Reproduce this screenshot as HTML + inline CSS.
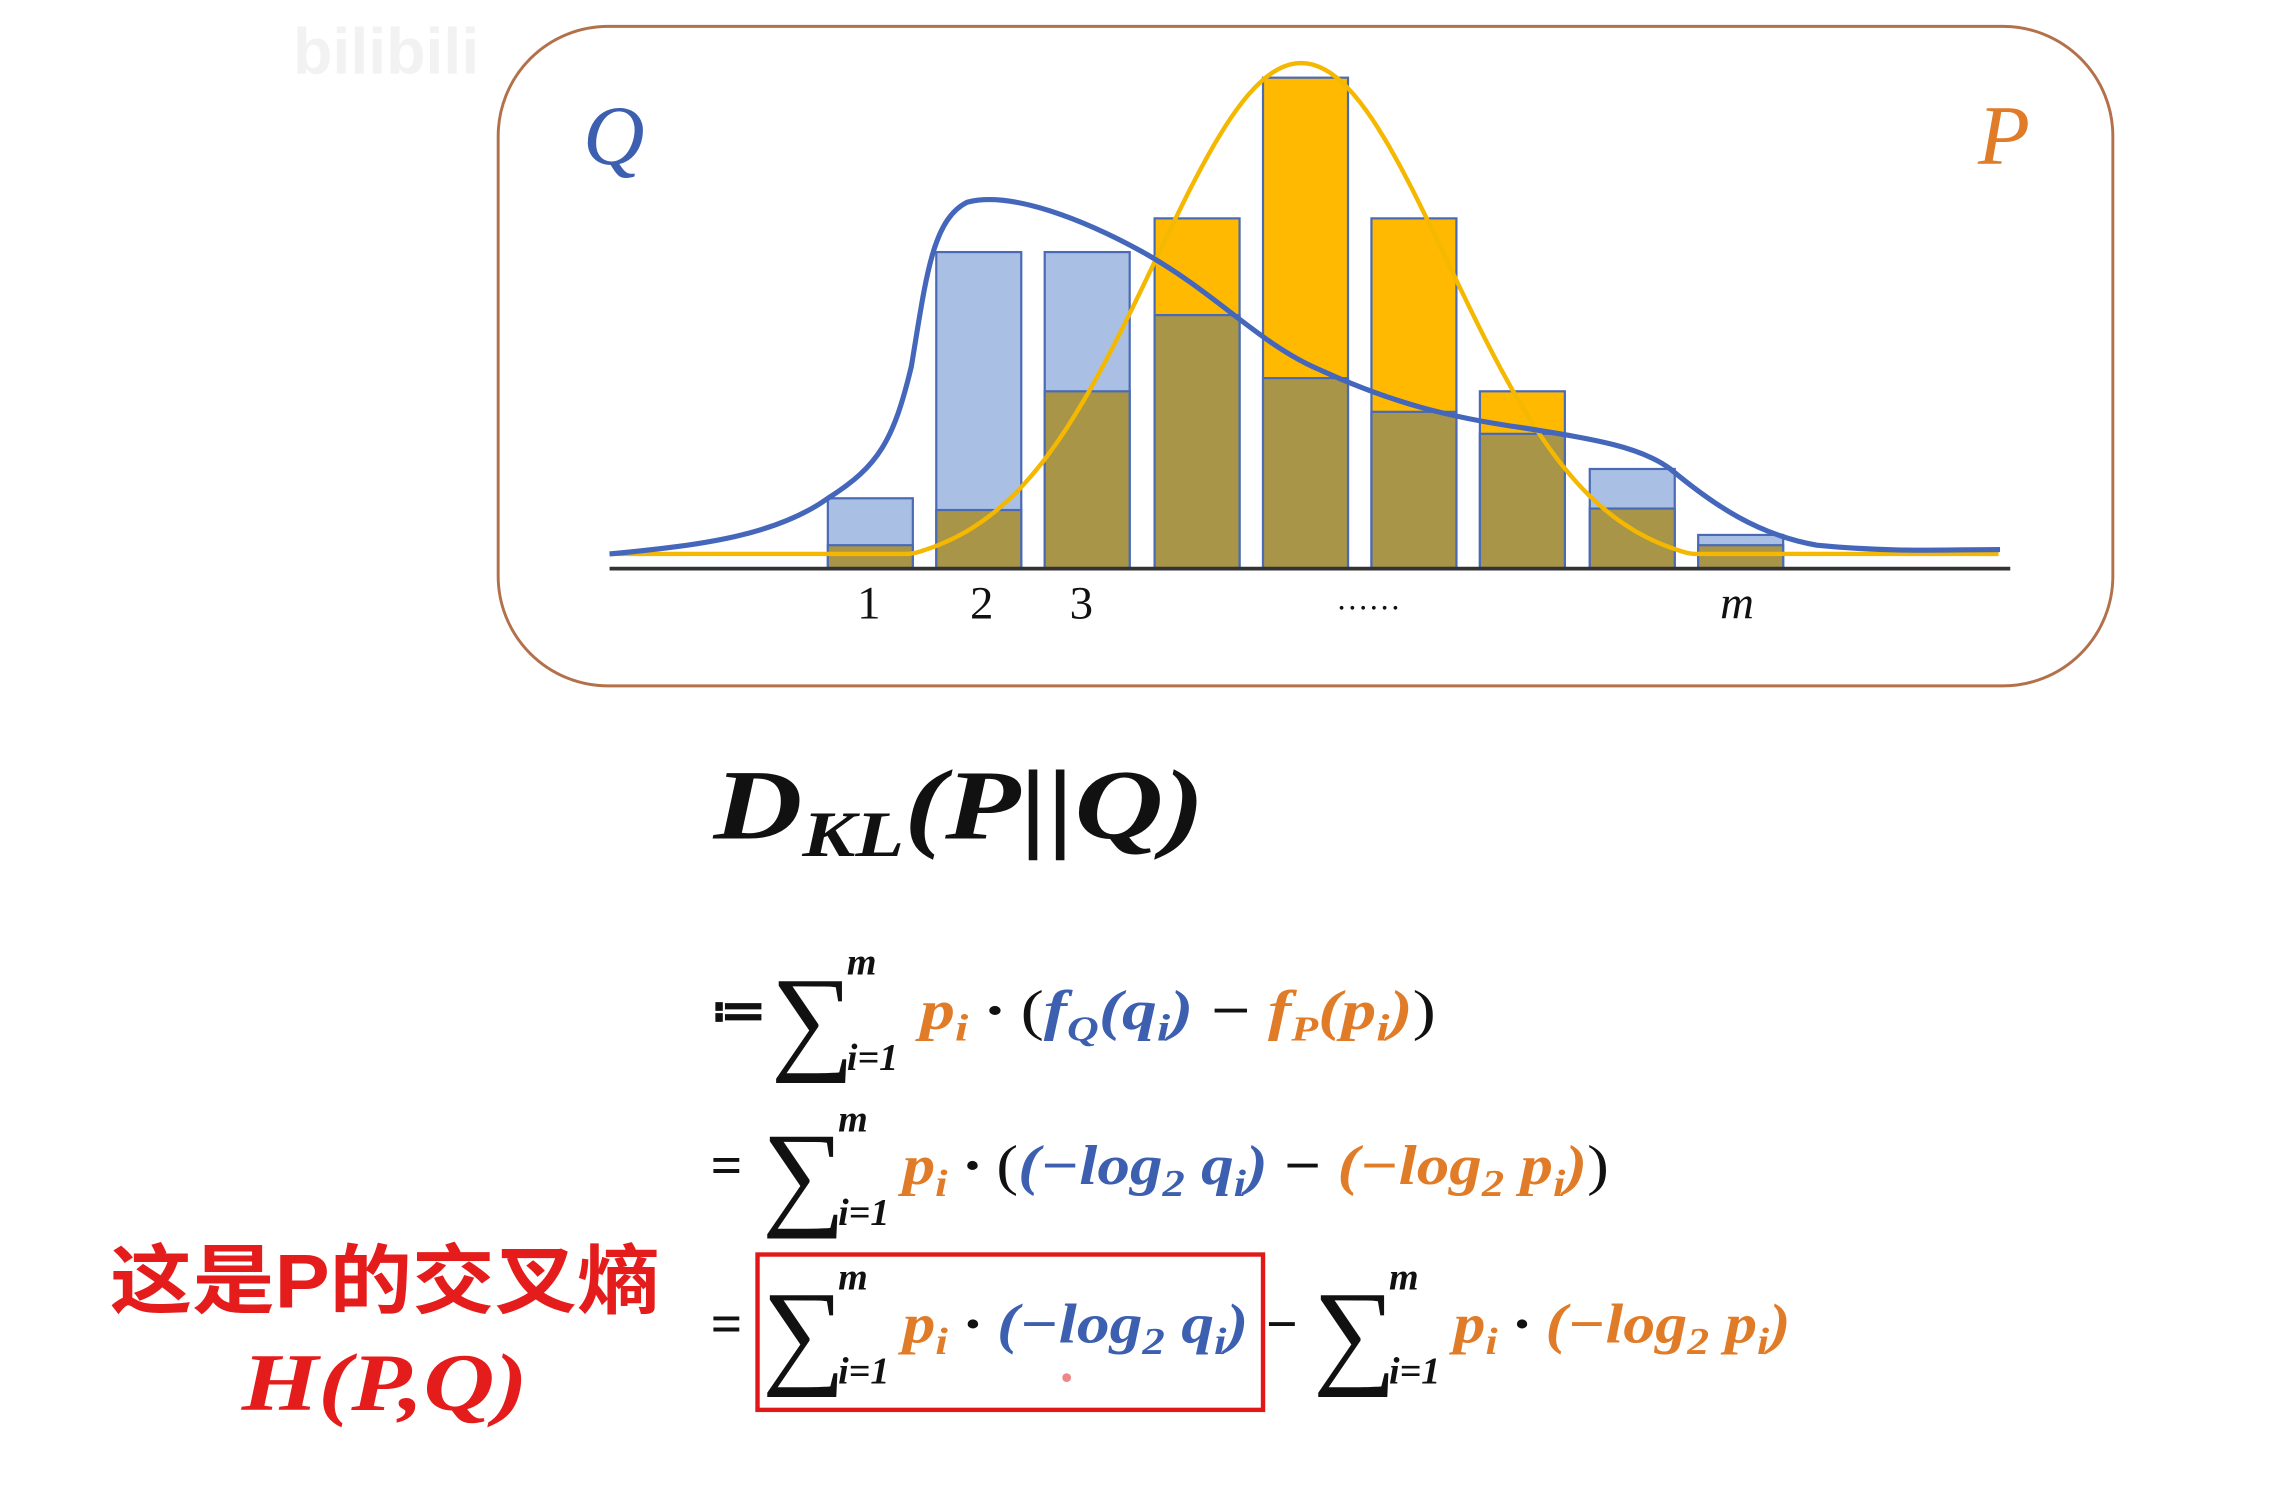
<!DOCTYPE html>
<html><head><meta charset="utf-8"><style>
html,body{margin:0;padding:0;background:#fff;}
svg{display:block}
.o{fill:#e07b28}.b{fill:#3d5fb0}.k{fill:#111}
</style></head><body>
<svg width="2296" height="1511" viewBox="0 0 1567 1031" preserveAspectRatio="none" xmlns="http://www.w3.org/2000/svg" style="font-family:'Liberation Serif','Noto Serif CJK SC',serif">
<rect x="0" y="0" width="1567" height="1031" fill="#fff"/>
<text x="200" y="50" font-size="44" font-weight="bold" fill="#f2f2f2" style="font-family:'Liberation Sans',sans-serif">bilibili</text>
<rect x="340" y="18" width="1102" height="450" rx="75" ry="75" fill="none" stroke="#b3714b" stroke-width="2"/>
<g stroke="#4a6ab5" stroke-width="1.5">
<rect x="565" y="340" width="58" height="48" fill="#a9c0e4"/>
<rect x="639" y="172" width="58" height="216" fill="#a9c0e4"/>
<rect x="713" y="172" width="58" height="216" fill="#a9c0e4"/>
<rect x="788" y="149" width="58" height="239" fill="#ffb900"/>
<rect x="862" y="53" width="58" height="335" fill="#ffb900"/>
<rect x="936" y="149" width="58" height="239" fill="#ffb900"/>
<rect x="1010" y="267" width="58" height="121" fill="#ffb900"/>
<rect x="1085" y="320" width="58" height="68" fill="#a9c0e4"/>
<rect x="1159" y="365" width="58" height="23" fill="#a9c0e4"/>
<rect x="565" y="372" width="58" height="16" fill="#a89548"/>
<rect x="639" y="348" width="58" height="40" fill="#a89548"/>
<rect x="713" y="267" width="58" height="121" fill="#a89548"/>
<rect x="788" y="215" width="58" height="173" fill="#a89548"/>
<rect x="862" y="258" width="58" height="130" fill="#a89548"/>
<rect x="936" y="281" width="58" height="107" fill="#a89548"/>
<rect x="1010" y="296" width="58" height="92" fill="#a89548"/>
<rect x="1085" y="347" width="58" height="41" fill="#a89548"/>
<rect x="1159" y="372" width="58" height="16" fill="#a89548"/>
</g>
<path id="pc" fill="none" stroke="#f5b800" stroke-width="3" d=""/>
<path fill="none" stroke="#4466bb" stroke-width="3.5" d="M416,378 C480,372 530,365 565,340 C600,318 610,300 622,250 C632,190 636,150 660,138 C690,130 740,150 780,172 C830,200 860,235 900,252 C950,275 990,285 1040,292 C1090,300 1120,305 1140,320 C1170,345 1200,365 1240,372 C1290,377 1330,375 1365,375"/>
<line x1="416" y1="388" x2="1372" y2="388" stroke="#333" stroke-width="2.5"/>
<g font-size="32" class="k">
<text x="585" y="422">1</text><text x="662" y="422">2</text><text x="730" y="422">3</text>
<text x="912" y="416" font-size="22">……</text>
<text x="1174" y="422" font-style="italic">m</text>
</g>
<text x="398" y="112" font-size="58" font-style="italic" class="b">Q</text>
<text x="1350" y="112" font-size="58" font-style="italic" class="o">P</text>
<text x="487" y="572" font-size="68" font-weight="bold" font-style="italic" class="k" textLength="335" lengthAdjust="spacingAndGlyphs">D<tspan font-size="44" dy="12">KL</tspan><tspan dy="-12">(P||Q)</tspan></text>
<g font-size="38" font-weight="bold" font-style="italic">
<text x="485" y="702" class="k" font-style="normal">≔</text>
<text x="526" y="722" class="k" font-size="80" font-style="normal" font-weight="normal">∑</text>
<text x="578" y="665" class="k" font-size="26">m</text>
<text x="578" y="730" class="k" font-size="26">i=1</text>
<text x="628" y="702" textLength="352" lengthAdjust="spacingAndGlyphs"><tspan class="o">p</tspan><tspan class="o" font-size="26" dy="8">i</tspan><tspan class="k" dy="-8"> · </tspan><tspan class="k" font-weight="normal" font-style="normal">(</tspan><tspan class="b">f</tspan><tspan class="b" font-size="24" dy="8">Q</tspan><tspan class="b" dy="-8">(q</tspan><tspan class="b" font-size="26" dy="8">i</tspan><tspan class="b" dy="-8">)</tspan><tspan class="k" font-style="normal"> − </tspan><tspan class="o">f</tspan><tspan class="o" font-size="24" dy="8">P</tspan><tspan class="o" dy="-8">(p</tspan><tspan class="o" font-size="26" dy="8">i</tspan><tspan class="o" dy="-8">)</tspan><tspan class="k" font-weight="normal" font-style="normal">)</tspan></text>

<text x="485" y="808" class="k" font-style="normal">=</text>
<text x="520" y="828" class="k" font-size="80" font-style="normal" font-weight="normal">∑</text>
<text x="572" y="772" class="k" font-size="26">m</text>
<text x="572" y="836" class="k" font-size="26">i=1</text>
<text x="616" y="808" textLength="482" lengthAdjust="spacingAndGlyphs"><tspan class="o">p</tspan><tspan class="o" font-size="26" dy="8">i</tspan><tspan class="k" dy="-8"> · </tspan><tspan class="k" font-weight="normal" font-style="normal">(</tspan><tspan class="b">(−log</tspan><tspan class="b" font-size="26" dy="8">2</tspan><tspan class="b" dy="-8"> q</tspan><tspan class="b" font-size="26" dy="8">i</tspan><tspan class="b" dy="-8">)</tspan><tspan class="k" font-style="normal"> − </tspan><tspan class="o">(−log</tspan><tspan class="o" font-size="26" dy="8">2</tspan><tspan class="o" dy="-8"> p</tspan><tspan class="o" font-size="26" dy="8">i</tspan><tspan class="o" dy="-8">)</tspan><tspan class="k" font-weight="normal" font-style="normal">)</tspan></text>

<text x="485" y="916" class="k" font-style="normal">=</text>
<text x="520" y="936" class="k" font-size="80" font-style="normal" font-weight="normal">∑</text>
<text x="572" y="880" class="k" font-size="26">m</text>
<text x="572" y="944" class="k" font-size="26">i=1</text>
<text x="616" y="916" textLength="236" lengthAdjust="spacingAndGlyphs"><tspan class="o">p</tspan><tspan class="o" font-size="26" dy="8">i</tspan><tspan class="k" dy="-8"> · </tspan><tspan class="b">(−log</tspan><tspan class="b" font-size="26" dy="8">2</tspan><tspan class="b" dy="-8"> q</tspan><tspan class="b" font-size="26" dy="8">i</tspan><tspan class="b" dy="-8">)</tspan></text>
<text x="864" y="916" class="k" font-style="normal">−</text>
<text x="896" y="936" class="k" font-size="80" font-style="normal" font-weight="normal">∑</text>
<text x="948" y="880" class="k" font-size="26">m</text>
<text x="948" y="944" class="k" font-size="26">i=1</text>
<text x="992" y="916" textLength="230" lengthAdjust="spacingAndGlyphs"><tspan class="o">p</tspan><tspan class="o" font-size="26" dy="8">i</tspan><tspan class="k" dy="-8"> · </tspan><tspan class="o">(−log</tspan><tspan class="o" font-size="26" dy="8">2</tspan><tspan class="o" dy="-8"> p</tspan><tspan class="o" font-size="26" dy="8">i</tspan><tspan class="o" dy="-8">)</tspan></text>
</g>
<rect x="517" y="856" width="345" height="106" fill="none" stroke="#e01818" stroke-width="3"/>
<circle cx="728" cy="940" r="3" fill="#e88"/>
<text x="75" y="892" font-size="52" font-weight="bold" fill="#e51c1c" textLength="375" lengthAdjust="spacingAndGlyphs" style="font-family:'Liberation Sans','Noto Sans CJK SC',sans-serif">这是P的交叉熵</text>
<text x="165" y="962" font-size="56" font-weight="bold" font-style="italic" fill="#e51c1c" textLength="195" lengthAdjust="spacingAndGlyphs">H(P,Q)</text>
<script>
var d="";for(var x=416;x<=1365;x+=4){var y=388-345*Math.exp(-Math.pow(x-888,2)/(2*100*100));y=Math.min(y,378);d+=(x==416?"M":"L")+x+","+y.toFixed(1);}
document.getElementById("pc").setAttribute("d",d);
</script>
</svg>
</body></html>
